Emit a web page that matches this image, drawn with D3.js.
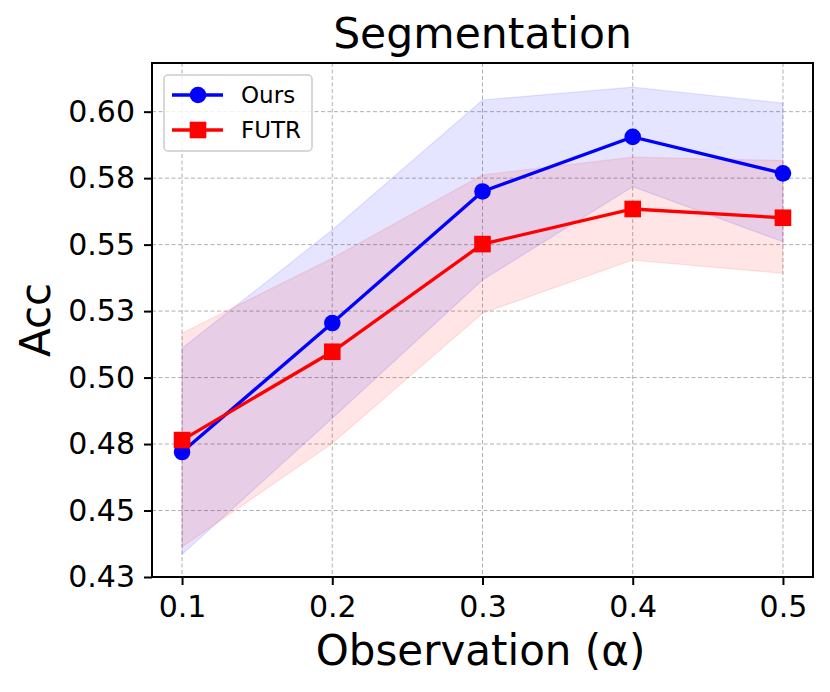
<!DOCTYPE html>
<html>
<head>
<meta charset="utf-8">
<script src="https://cdn.jsdelivr.net/npm/d3@7"></script>
<style>
  body { margin: 0; background: #fff; }
  svg { display: block; font-family: "DejaVu Sans", sans-serif; }
</style>
</head>
<body>
<div id="chart"></div>
<script>
// observation ratios
const alphas = [0.1, 0.2, 0.3, 0.4, 0.5];

// Ours
const oursMean = [0.472, 0.5205, 0.570, 0.5905, 0.5768];
const oursUpper = [0.511, 0.5555, 0.6044, 0.6092, 0.6032];
const oursLower = [0.4335, 0.4847, 0.5367, 0.5718, 0.5511];

// FUTR
const futrMean = [0.4765, 0.5097, 0.5502, 0.5634, 0.5601];
const futrUpper = [0.5167, 0.5449, 0.5762, 0.5829, 0.5816];
const futrLower = [0.4363, 0.4753, 0.5242, 0.5442, 0.5392];

const xTicks = [0.1, 0.2, 0.3, 0.4, 0.5];
const xTickLabels = ["0.1", "0.2", "0.3", "0.4", "0.5"];
const yTicks = [0.425, 0.45, 0.475, 0.5, 0.525, 0.55, 0.575, 0.6];
const yTickLabels = ["0.43", "0.45", "0.48", "0.50", "0.53", "0.55", "0.58", "0.60"];

const width = 830;
const height = 692;
const margin = { top: 63, right: 17, bottom: 115, left: 152 };
const innerW = width - margin.left - margin.right;
const innerH = height - margin.top - margin.bottom;

const svg = d3.select("#chart").append("svg")
  .attr("width", width)
  .attr("height", height);

const x = d3.scaleLinear().domain([0.08, 0.52]).range([0, innerW]);
const y = d3.scaleLinear().domain([0.425, 0.6183]).range([innerH, 0]);

const g = svg.append("g").attr("transform", `translate(${margin.left},${margin.top})`);

// grid
g.append("g").selectAll("line").data(xTicks).join("line")
  .attr("x1", d => x(d)).attr("x2", d => x(d))
  .attr("y1", 0).attr("y2", innerH)
  .attr("stroke", "#b0b0b0").attr("stroke-width", 1).attr("stroke-dasharray", "4,2.5");
g.append("g").selectAll("line").data(yTicks).join("line")
  .attr("x1", 0).attr("x2", innerW)
  .attr("y1", d => y(d)).attr("y2", d => y(d))
  .attr("stroke", "#b0b0b0").attr("stroke-width", 1).attr("stroke-dasharray", "4,2.5");

const series = [
  { name: "Ours", color: "#0000ff", mean: oursMean, upper: oursUpper, lower: oursLower, marker: "circle" },
  { name: "FUTR", color: "#ff0000", mean: futrMean, upper: futrUpper, lower: futrLower, marker: "square" }
];

const area = d3.area()
  .x(d => x(d.a))
  .y0(d => y(d.lo))
  .y1(d => y(d.hi));
const line = d3.line().x(d => x(d.a)).y(d => y(d.v));

// bands
series.forEach(s => {
  const band = alphas.map((a, i) => ({ a, lo: s.lower[i], hi: s.upper[i] }));
  g.append("path")
    .datum(band)
    .attr("d", area)
    .attr("fill", s.color)
    .attr("fill-opacity", 0.1)
    .attr("stroke", s.color)
    .attr("stroke-opacity", 0.1)
    .attr("stroke-width", 1.2);
});

// lines and markers
series.forEach(s => {
  const pts = alphas.map((a, i) => ({ a, v: s.mean[i] }));
  g.append("path")
    .datum(pts)
    .attr("d", line)
    .attr("fill", "none")
    .attr("stroke", s.color)
    .attr("stroke-width", 3.3);
  if (s.marker === "circle") {
    g.append("g").selectAll("circle").data(pts).join("circle")
      .attr("cx", d => x(d.a)).attr("cy", d => y(d.v))
      .attr("r", 8.3).attr("fill", s.color);
  } else {
    g.append("g").selectAll("rect").data(pts).join("rect")
      .attr("x", d => x(d.a) - 8.3).attr("y", d => y(d.v) - 8.3)
      .attr("width", 16.6).attr("height", 16.6).attr("fill", s.color);
  }
});

// axes
const xAxis = g.append("g")
  .attr("transform", `translate(0,${innerH})`)
  .call(d3.axisBottom(x).tickValues(xTicks).tickFormat((d, i) => xTickLabels[i])
    .tickSize(8).tickPadding(11).tickSizeOuter(0));
const yAxis = g.append("g")
  .call(d3.axisLeft(y).tickValues(yTicks).tickFormat((d, i) => yTickLabels[i])
    .tickSize(8).tickPadding(9).tickSizeOuter(0));

[xAxis, yAxis].forEach(ax => {
  ax.select(".domain").remove();
  ax.selectAll(".tick line").attr("stroke", "#000").attr("stroke-width", 2);
  ax.selectAll(".tick text").attr("fill", "#000")
    .style("font-size", "30px").style("font-family", "DejaVu Sans");
});

// frame
g.append("rect")
  .attr("x", 0).attr("y", 0).attr("width", innerW).attr("height", innerH)
  .attr("fill", "none").attr("stroke", "#000").attr("stroke-width", 2);

// title and labels
svg.append("text")
  .attr("x", margin.left + innerW / 2).attr("y", 48)
  .attr("text-anchor", "middle")
  .style("font-size", "42.5px")
  .text("Segmentation");

svg.append("text")
  .attr("x", margin.left + innerW / 2 - 2).attr("y", 665)
  .attr("text-anchor", "middle")
  .style("font-size", "42px")
  .text("Observation (α)");

svg.append("text")
  .attr("transform", `translate(50,${margin.top + innerH / 2}) rotate(-90)`)
  .attr("text-anchor", "middle")
  .style("font-size", "42px")
  .text("Acc");

// legend
const legend = svg.append("g").attr("transform", "translate(164,75)");
legend.append("rect")
  .attr("width", 148).attr("height", 76)
  .attr("rx", 4).attr("ry", 4)
  .attr("fill", "#fff").attr("fill-opacity", 0.8)
  .attr("stroke", "#cccccc").attr("stroke-width", 1.5);

series.forEach((s, i) => {
  const row = legend.append("g").attr("transform", `translate(0,${20 + i * 35})`);
  row.append("line")
    .attr("x1", 8).attr("x2", 59).attr("y1", 0).attr("y2", 0)
    .attr("stroke", s.color).attr("stroke-width", 3.3);
  if (s.marker === "circle") {
    row.append("circle").attr("cx", 34).attr("cy", 0).attr("r", 8.3).attr("fill", s.color);
  } else {
    row.append("rect").attr("x", 25.7).attr("y", -8.3).attr("width", 16.6).attr("height", 16.6).attr("fill", s.color);
  }
  row.append("text")
    .attr("x", 77).attr("y", 0).attr("dy", "0.36em")
    .style("font-size", "23px")
    .text(s.name);
});
</script>
</body>
</html>
